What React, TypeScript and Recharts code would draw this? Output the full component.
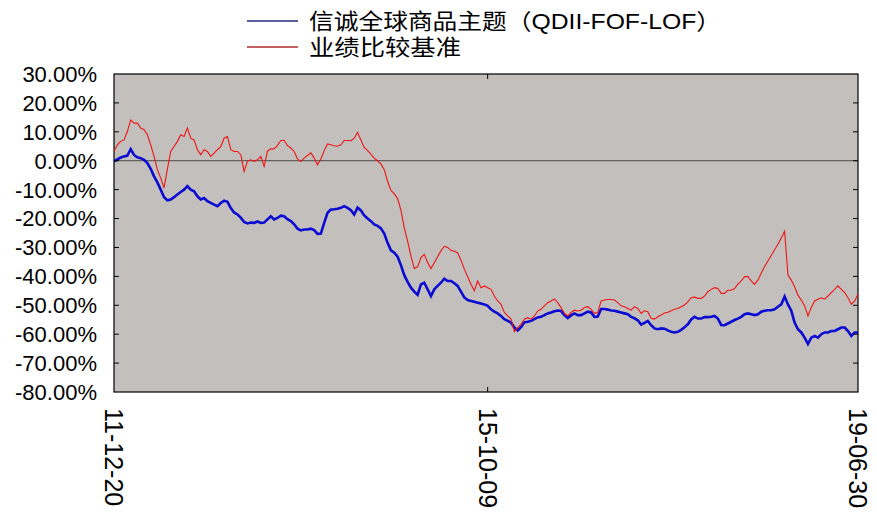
import React from 'react';
import { LineChart, Line, XAxis, YAxis, CartesianGrid, ReferenceLine, Customized } from 'recharts';

const CHART_W = 877;
const CHART_H = 518;
// plot box inside the chart, derived from margins below
const PLOT = { left: 114, top: 74, right: 858, bottom: 392 };

const FONT = '"Liberation Sans", Arial, "Noto Sans CJK SC", sans-serif';

const SERIES_NAMES = ['信诚全球商品主题（QDII-FOF-LOF）', '业绩比较基准'];
const SERIES_COLORS = ['#0a0ad2', '#f01414'];
const LEGEND_COLORS = ['#1e2d7a', '#b02a2a'];
const LEGEND_TEXT_LEN = [412, 152];

const X_LABELS = ['11-12-20', '15-10-09', '19-06-30'];
const X_LABEL_INDEX = [0, 112, 223];
const Y_TICKS = [30, 20, 10, 0, -10, -20, -30, -40, -50, -60, -70, -80];

// 信诚全球商品主题 cumulative return, %
const FUND = [
  -0.2, 0.5, 1.1, 1.5, 1.8, 4.0, 2.0, 1.2, 0.9, 0.3,
  -0.8, -2.8, -5.4, -7.5, -10.0, -12.6, -13.7, -13.4, -12.6, -11.7,
  -10.8, -10.0, -8.8, -10.0, -10.6, -12.3, -13.4, -12.9, -14.0, -14.6,
  -15.2, -15.7, -14.6, -13.8, -14.2, -16.4, -17.9, -18.6, -19.7, -21.2,
  -21.7, -21.4, -21.5, -21.0, -21.5, -21.4, -20.3, -19.2, -20.3, -19.8,
  -19.0, -19.2, -20.2, -20.9, -22.0, -23.5, -24.1, -23.8, -23.8, -23.5,
  -24.0, -25.3, -25.2, -21.5, -18.0, -16.9, -16.8, -16.6, -16.3, -15.7,
  -16.3, -17.1, -18.6, -16.2,
  -17.2, -18.9, -20.0, -20.9, -22.0, -22.5, -23.4, -25.2, -28.4, -31.0,
  -31.8, -33.2, -36.1, -39.6, -41.9, -43.9, -45.3, -46.4, -42.8, -42.2,
  -44.5, -46.8, -44.5, -43.3, -42.2, -40.8, -41.6, -41.6, -42.4, -43.3,
  -45.3, -47.3, -48.2, -48.5, -48.8, -49.1, -49.4, -49.7, -50.2, -51.4,
  -52.2, -52.8, -53.7, -54.8, -55.4, -56.0, -57.7, -58.7, -57.6, -55.9,
  -55.7, -55.4, -54.8, -54.2, -54.0, -53.4, -52.8, -52.5, -52.1, -51.8,
  -52.0, -53.4, -54.4, -53.5, -52.8, -53.4, -53.4, -52.8, -52.2, -52.5,
  -54.0, -53.9,
  -51.3, -51.3, -51.5, -51.8, -51.9, -52.2, -52.5, -52.8, -53.1, -54.0,
  -54.5, -55.2, -56.7, -56.1, -55.4, -56.9, -58.0, -58.3, -58.0, -58.1,
  -58.7, -59.2, -59.4, -59.2, -58.5, -57.6, -56.6, -54.9, -54.0, -54.6,
  -54.6, -54.1, -54.1, -54.0, -53.7, -54.6, -56.8, -56.9, -56.3, -55.7,
  -55.1, -54.6, -54.0, -53.1, -52.8, -53.1, -53.4, -53.1, -52.2, -51.9,
  -51.7, -51.7, -51.4, -50.5, -49.7, -47.0, -49.7, -51.9, -56.0, -58.3,
  -59.4, -61.2, -63.4, -61.2, -60.6, -61.2, -60.0, -59.4, -59.4, -58.9,
  -58.9, -58.3, -57.7, -57.7, -58.9, -60.6, -59.4, -59.4,
];

// 业绩比较基准 cumulative return, %
const BENCH = [
  3.2, 5.5, 6.7, 7.2, 10.1, 14.1, 13.0, 13.0, 11.3, 10.7,
  9.0, 5.5, 1.5, -3.1, -6.0, -9.4, -2.9, 3.2, 4.9, 6.7,
  9.0, 8.4, 11.3, 7.8, 7.2, 3.8, 2.1, 3.8, 3.2, 1.5,
  2.6, 3.8, 4.9, 7.8, 8.4, 3.8, 3.2, 3.2, 2.1, -3.7,
  -0.2, 0.3, -0.2, 0.3, 1.5, -2.0, 3.3, 4.1, 4.1, 5.3,
  7.0, 7.0, 5.2, 4.4, 3.2, 0.6, -0.3, 0.9, 1.8, 2.7,
  0.9, -1.4, 0.6, 3.5, 5.8, 5.5, 5.2, 5.0, 5.5, 7.0,
  7.0, 6.9, 7.8, 9.8,
  7.2, 4.6, 3.5, 2.3, 0.9, 0.0, -1.1, -3.1, -7.1, -10.3,
  -11.4, -13.1, -17.1, -23.2, -27.8, -32.9, -37.3, -36.7, -33.5, -32.4,
  -35.2, -37.3, -35.3, -33.2, -31.2, -29.6, -30.0, -31.0, -31.3, -31.8,
  -34.4, -37.5, -40.1, -42.7, -45.0, -41.6, -43.9, -43.3, -43.9, -44.5,
  -46.8, -48.5, -49.7, -52.5, -53.7, -54.8, -59.1, -57.7, -56.6, -54.8,
  -54.3, -54.8, -53.7, -52.0, -51.4, -50.2, -49.1, -48.5, -47.8, -49.1,
  -50.8, -52.8, -53.7, -52.5, -51.7, -52.0, -51.7, -50.8, -50.5, -51.4,
  -52.8, -52.5,
  -48.5, -48.2, -48.0, -48.0, -48.2, -49.1, -50.2, -50.5, -51.1, -51.7,
  -50.5, -51.1, -52.8, -51.9, -52.2, -54.5, -54.8, -54.0, -53.4, -52.7,
  -52.4, -51.9, -51.4, -51.1, -50.5, -49.9, -48.8, -47.4, -47.2, -47.6,
  -47.6, -46.8, -45.3, -44.5, -43.9, -44.2, -45.9, -45.9, -44.8, -44.8,
  -44.2, -42.7, -41.6, -40.1, -40.1, -41.6, -42.8, -41.3, -38.8, -36.6,
  -34.7, -32.8, -30.8, -28.9, -26.7, -24.4, -39.5, -41.3, -43.6, -46.5,
  -48.2, -50.2, -53.7, -50.8, -48.5, -47.9, -47.4, -47.9, -46.8, -45.6,
  -44.5, -43.3, -44.5, -45.6, -47.4, -49.7, -48.5, -46.2,
];

const data = FUND.map((v, i) => ({ i, fund: v, bench: BENCH[i] }));
const LAST = FUND.length - 1;

const YTick = (props: any) => {
  const { y, payload } = props;
  const v = payload.value;
  const inner = v < Y_TICKS[0] && v > Y_TICKS[Y_TICKS.length - 1];
  return (
    <g>
      <text x={97} y={y} dy="0.36em" textAnchor="end" fontSize={22} fill="#000" fontFamily={FONT}>
        {v.toFixed(2)}%
      </text>
      {inner && <line x1={PLOT.left} x2={PLOT.left + 5} y1={y} y2={y} stroke="#000" />}
      {inner && <line x1={PLOT.right - 5} x2={PLOT.right} y1={y} y2={y} stroke="#000" />}
    </g>
  );
};

const XTick = (props: any) => {
  const { x, payload } = props;
  const idx = X_LABEL_INDEX.indexOf(payload.value);
  const inner = idx > 0 && idx < X_LABELS.length - 1;
  return (
    <g>
      <text
        transform={`translate(${x},${PLOT.bottom + 16}) rotate(90)`}
        dy="0.35em"
        fontSize={25}
        fill="#000"
        fontFamily={FONT}
      >
        {X_LABELS[idx]}
      </text>
      {inner && <line x1={x} x2={x} y1={PLOT.top} y2={PLOT.top + 5} stroke="#000" />}
      {inner && <line x1={x} x2={x} y1={PLOT.bottom - 5} y2={PLOT.bottom} stroke="#000" />}
    </g>
  );
};

const Frame = () => (
  <rect
    x={PLOT.left}
    y={PLOT.top}
    width={PLOT.right - PLOT.left}
    height={PLOT.bottom - PLOT.top}
    fill="none"
    stroke="#000"
    strokeWidth={1.2}
  />
);

const LegendBox = () => (
  <g fontFamily={FONT}>
    {SERIES_NAMES.map((name, k) => (
      <g key={name}>
        <line x1={247} x2={298} y1={21 + k * 26} y2={21 + k * 26} stroke={LEGEND_COLORS[k]} strokeWidth={1.5} />
        <text
          x={309}
          y={21 + k * 26}
          dy="0.36em"
          fontSize={22}
          fill="#000"
          textLength={LEGEND_TEXT_LEN[k]}
          lengthAdjust="spacingAndGlyphs"
        >
          {name}
        </text>
      </g>
    ))}
  </g>
);

export default function App() {
  return (
    <div style={{ position: 'absolute', left: 0, top: 0, width: CHART_W, height: CHART_H, background: '#fff' }}>
      <LineChart
        width={CHART_W}
        height={CHART_H}
        data={data}
        margin={{ top: 74, right: 19, bottom: 6, left: 14 }}
      >
        <CartesianGrid horizontal={false} vertical={false} fill="#c3bfbc" fillOpacity={1} />
        <XAxis
          dataKey="i"
          type="number"
          domain={[0, LAST]}
          ticks={X_LABEL_INDEX}
          interval={0}
          tick={<XTick />}
          tickLine={false}
          axisLine={false}
          tickSize={0}
          tickMargin={0}
          height={120}
        />
        <YAxis
          type="number"
          domain={[-80, 30]}
          ticks={Y_TICKS}
          interval={0}
          tick={<YTick />}
          tickLine={false}
          axisLine={false}
          tickSize={0}
          tickMargin={0}
          width={100}
        />
        <ReferenceLine y={0} stroke="#4a4a4a" strokeWidth={1} />
        <Line
          type="linear"
          dataKey="fund"
          stroke={SERIES_COLORS[0]}
          strokeWidth={2.6}
          dot={false}
          isAnimationActive={false}
        />
        <Line
          type="linear"
          dataKey="bench"
          stroke={SERIES_COLORS[1]}
          strokeWidth={1.1}
          dot={false}
          isAnimationActive={false}
        />
        <Customized component={Frame} />
        <Customized component={LegendBox} />
      </LineChart>
    </div>
  );
}
